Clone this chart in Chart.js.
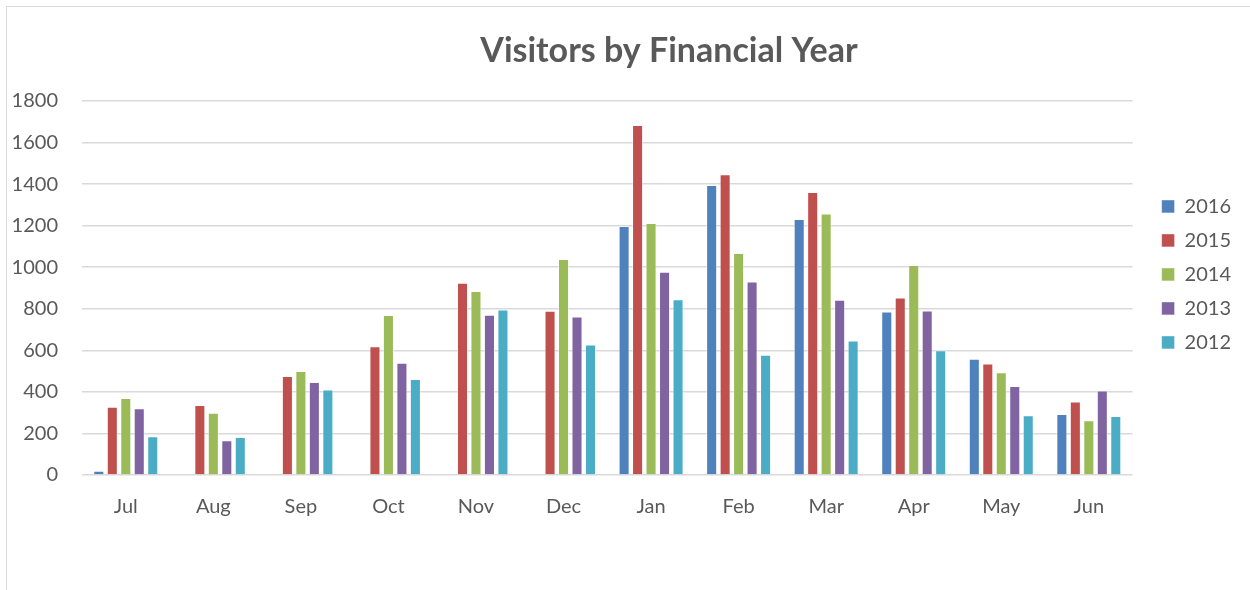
<!DOCTYPE html>
<html>
<head>
<meta charset="utf-8">
<script src="https://cdn.jsdelivr.net/npm/chart.js@4/dist/chart.umd.min.js"></script>
<style>
  html, body { margin: 0; padding: 0; background: #fff; }
  #frame { position: absolute; left: 6px; top: 6px; width: 1250px; height: 600px; border: 1px solid #d9d9d9; }
  #wrap { position: absolute; left: 0; top: 0; width: 1250px; height: 590px; }
</style>
</head>
<body>
<div id="frame"></div>
<div id="wrap"><canvas id="chart" width="1250" height="590"></canvas></div>
<script>
const months = ["Jul", "Aug", "Sep", "Oct", "Nov", "Dec", "Jan", "Feb", "Mar", "Apr", "May", "Jun"];
const years = ["2016", "2015", "2014", "2013", "2012"];
const visits2016 = [20, null, null, null, null, null, 1198, 1396, 1232, 787, 559, 293];
const visits2015 = [329, 337, 477, 620, 925, 790, 1684, 1448, 1362, 854, 537, 354];
const visits2014 = [370, 299, 501, 770, 885, 1040, 1213, 1068, 1259, 1011, 495, 263];
const visits2013 = [321, 167, 447, 540, 771, 763, 978, 931, 844, 792, 428, 407];
const visits2012 = [186, 183, 411, 462, 797, 628, 846, 579, 647, 601, 287, 284];
const yTicks = [0, 200, 400, 600, 800, 1000, 1200, 1400, 1600, 1800];

const colors = ["#4F81BD", "#C0504D", "#9BBB59", "#8064A2", "#4BACC6"];
const series = [visits2016, visits2015, visits2014, visits2013, visits2012];
const textColor = "#595959";
const fontFamily = "Lato, 'Open Sans', sans-serif";

const titlePlugin = {
  id: "titleText",
  afterDraw(chart) {
    const ctx = chart.ctx;
    ctx.save();
    ctx.font = "bold 34px " + fontFamily;
    ctx.fillStyle = textColor;
    ctx.textAlign = "center";
    ctx.textBaseline = "middle";
    ctx.fillText("Visitors by Financial Year", 669, 51);
    ctx.restore();
  }
};

new Chart(document.getElementById("chart").getContext("2d"), {
  type: "bar",
  data: {
    labels: months,
    datasets: years.map((y, i) => ({
      label: y,
      data: series[i],
      backgroundColor: colors[i],
      borderColor: "rgba(255,255,255,0.5)",
      borderWidth: 1,
      categoryPercentage: 0.77,
      barPercentage: 0.82
    }))
  },
  options: {
    responsive: false,
    animation: false,
    layout: { padding: { left: 10, top: 101, right: 9, bottom: 59 } },
    plugins: {
      title: { display: false },
      tooltip: { enabled: false },
      legend: {
        position: "right",
        align: "start",
        title: { display: true, text: "", font: { size: 12 }, padding: { top: 67, bottom: 0 } },
        labels: {
          boxWidth: 13,
          boxHeight: 13,
          padding: 14,
          color: textColor,
          font: { family: fontFamily, size: 20 }
        }
      }
    },
    scales: {
      x: {
        grid: { display: false },
        border: { display: false },
        ticks: { color: textColor, font: { family: fontFamily, size: 20 }, padding: 12 }
      },
      y: {
        min: 0,
        max: 1800,
        afterBuildTicks(axis) { axis.ticks = yTicks.map(v => ({ value: v })); },
        afterFit(scale) { scale.width = 72; },
        grid: { color: "#d9d9d9", lineWidth: 1.5, drawTicks: false },
        border: { display: false },
        ticks: {
          color: textColor,
          font: { family: fontFamily, size: 20 },
          padding: 24,
          callback: v => String(v)
        }
      },
      gap: {
        position: "right",
        grid: { display: false },
        border: { display: false },
        ticks: { display: false },
        afterFit(scale) { scale.width = 15; }
      }
    }
  },
  plugins: [titlePlugin]
});
</script>
</body>
</html>
